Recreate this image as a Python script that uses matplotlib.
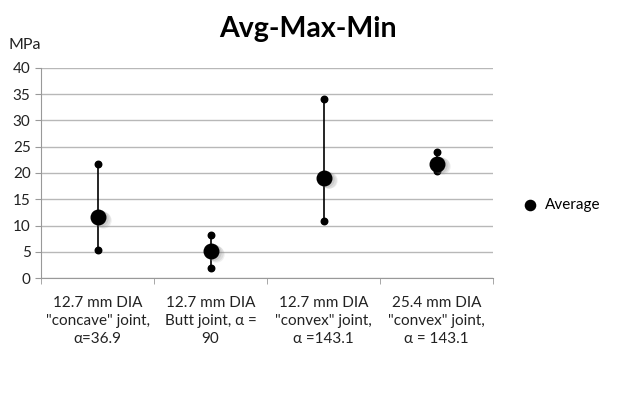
import matplotlib.pyplot as plt
import numpy as np

plt.rcParams['font.family'] = ['Lato', 'DejaVu Sans']

categories = ['12.7 mm DIA\n"concave" joint,\nα=36.9',
              '12.7 mm DIA\nButt joint, α =\n90',
              '12.7 mm DIA\n"convex" joint,\nα =143.1',
              '25.4 mm DIA\n"convex" joint,\nα = 143.1']
avg_vals = [11.6, 5.1, 19.1, 21.8]
max_vals = [21.7, 8.2, 34.1, 24.0]
min_vals = [5.3, 1.9, 10.8, 20.4]

fig = plt.figure(figsize=(6.43, 4.03), dpi=100)
ax = fig.add_axes([41 / 643, 1 - 278 / 403, 452 / 643, 210 / 403])

x = np.arange(len(categories))

# vertical lines from min to max
ax.vlines(x, min_vals, max_vals, color='black', linewidth=1.2, zorder=3)
ax.scatter(x, max_vals, s=22, color='black', zorder=4)
ax.scatter(x, min_vals, s=22, color='black', zorder=4)

# soft shadow under the average markers
for dx, dy, a in [(0.05, -0.5, 0.12), (0.04, -0.35, 0.15), (0.025, -0.2, 0.2)]:
    ax.scatter(x + dx, np.array(avg_vals) + dy, s=140, color='gray', alpha=a,
               linewidths=0, zorder=4)
avg_pts = ax.scatter(x, avg_vals, s=110, color='black', zorder=5, label='Average')

ax.set_xlim(-0.5, 3.5)
ax.set_ylim(0, 40)
ax.set_yticks(range(0, 41, 5))
ax.yaxis.grid(True, color='#b8b8b8', linewidth=1)
ax.set_axisbelow(True)

ax.set_xticks(x)
ax.set_xticklabels(categories, fontsize=11, color='#222222', linespacing=1.35)
ax.set_xticks(np.arange(-0.5, 4, 1), minor=True)
ax.tick_params(axis='x', which='major', length=0, pad=13)
ax.tick_params(axis='x', which='minor', length=4, color='#999999', direction='out')
ax.tick_params(axis='y', labelsize=11, length=4, color='#999999', labelcolor='#222222')

for s in ['top', 'right']:
    ax.spines[s].set_visible(False)
ax.spines['left'].set_color('#999999')
ax.spines['bottom'].set_color('#999999')

fig.text(8 / 643, 1 - 45 / 403, 'MPa', fontsize=11.5, color='#222222', va='center')
fig.text(308 / 643, 1 - 29 / 403, 'Avg-Max-Min', fontsize=20.5, fontweight='bold',
         ha='center', va='center')

fig.legend(handles=[avg_pts], labels=['Average'], loc='center left',
           bbox_to_anchor=(501 / 643, 1 - 205 / 403), frameon=False, fontsize=11,
           handletextpad=0.0, markerscale=0.7)

fig.savefig('out.png', dpi=100)
